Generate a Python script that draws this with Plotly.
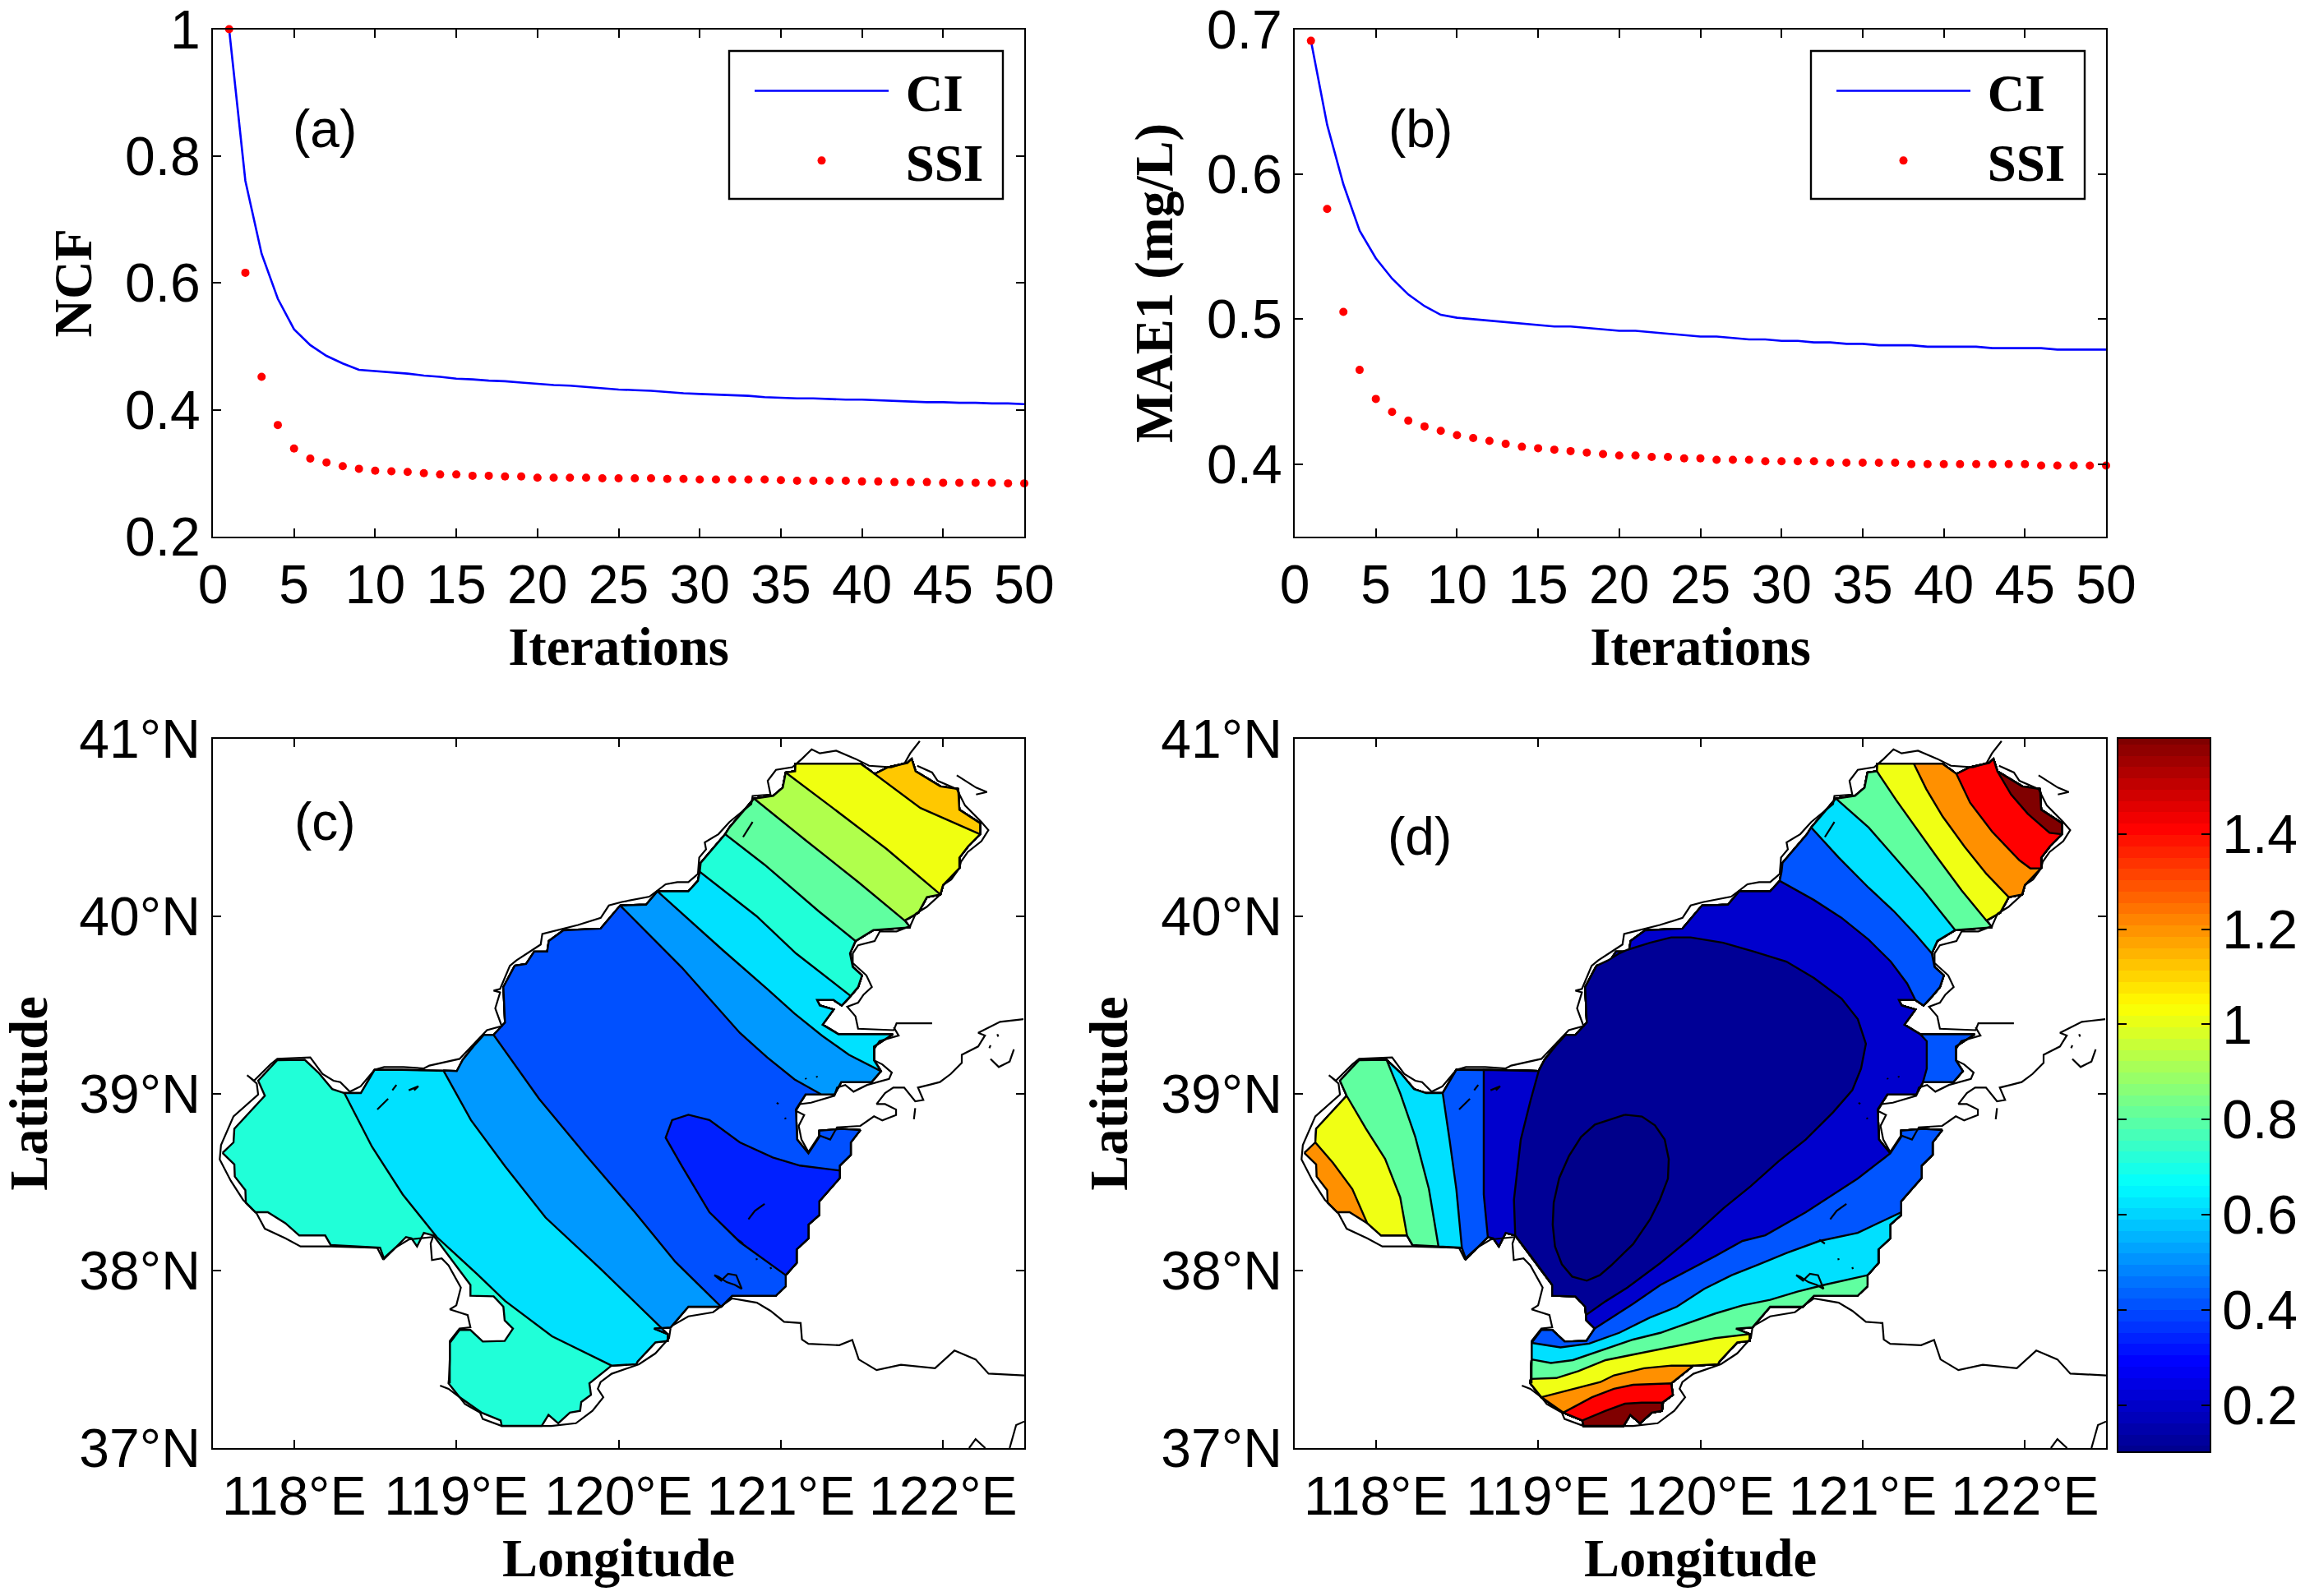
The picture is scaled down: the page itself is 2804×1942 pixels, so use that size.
import numpy as np
import plotly.graph_objects as go

W, H = 2804, 1942

# ---------- panels (a), (b) ----------
iterations = list(range(1, 51))
ci_ncf = [1.000,0.761,0.646,0.575,0.527,0.502,0.485,0.473,0.463,0.461,0.459,0.457,0.454,0.452,0.449,0.448,0.446,0.445,0.443,0.441,
          0.439,0.438,0.436,0.434,0.432,0.431,0.430,0.428,0.426,0.425,0.424,0.423,0.422,0.420,0.419,0.418,0.418,0.417,0.416,0.416,
          0.415,0.414,0.413,0.412,0.412,0.411,0.411,0.410,0.410,0.409]
ssi_ncf = [1.000,0.616,0.452,0.376,0.339,0.323,0.317,0.311,0.307,0.304,0.303,0.302,0.300,0.298,0.298,0.296,0.296,0.295,0.295,0.293,
           0.293,0.293,0.293,0.292,0.292,0.292,0.292,0.291,0.291,0.290,0.290,0.290,0.290,0.290,0.289,0.288,0.288,0.288,0.288,0.287,
           0.287,0.286,0.286,0.286,0.285,0.285,0.285,0.285,0.284,0.284]
ci_mae = [0.692,0.634,0.593,0.561,0.542,0.528,0.517,0.509,0.503,0.501,0.500,0.499,0.498,0.497,0.496,0.495,0.495,0.494,0.493,0.492,
          0.492,0.491,0.490,0.489,0.488,0.488,0.487,0.486,0.486,0.485,0.485,0.484,0.484,0.483,0.483,0.482,0.482,0.482,0.481,0.481,
          0.481,0.481,0.480,0.480,0.480,0.480,0.479,0.479,0.479,0.479]
ssi_mae = [0.692,0.576,0.505,0.465,0.445,0.436,0.430,0.426,0.423,0.420,0.418,0.416,0.414,0.412,0.411,0.410,0.409,0.408,0.407,0.406,
           0.406,0.405,0.405,0.404,0.404,0.403,0.403,0.403,0.402,0.402,0.402,0.402,0.401,0.401,0.401,0.401,0.401,0.400,0.400,0.400,
           0.400,0.400,0.400,0.400,0.400,0.399,0.399,0.399,0.399,0.399]

iter_ticks = list(range(0, 51, 5))
ncf_ticks = [0.2, 0.4, 0.6, 0.8, 1]
ncf_labels = ["0.2", "0.4", "0.6", "0.8", "1"]
mae_ticks = [0.4, 0.5, 0.6, 0.7]
mae_labels = ["0.4", "0.5", "0.6", "0.7"]
lon_ticks = [118, 119, 120, 121, 122]
lon_labels = ["118°E", "119°E", "120°E", "121°E", "122°E"]
lat_ticks = [37, 38, 39, 40, 41]
lat_labels = ["37°N", "38°N", "39°N", "40°N", "41°N"]
cbar_ticks = [0.2, 0.4, 0.6, 0.8, 1, 1.2, 1.4]
cbar_labels = ["0.2", "0.4", "0.6", "0.8", "1", "1.2", "1.4"]

# ---------- sea-area outline, clockwise from the western tip (lon, lat) ----------
outline = [
 (117.559,38.665),(117.627,38.724),(117.632,38.801),(117.82,38.987),(117.779,39.072),(117.897,39.188),(118.066,39.19),(118.15,39.118),(118.235,39.025),(118.31,39.002),
 (118.412,39.002),(118.496,39.133),(118.665,39.133),(118.92,39.13),(119.003,39.126),(119.04,39.19),(119.11,39.27),(119.17,39.33),(119.23,39.33),(119.30,39.40),
 (119.29,39.60),(119.36,39.72),(119.43,39.73),(119.48,39.80),(119.56,39.80),(119.57,39.86),(119.66,39.92),(119.89,39.93),(120.01,40.06),(120.17,40.065),
 (120.24,40.14),(120.43,40.14),(120.489,40.199),(120.50,40.25),(120.506,40.30),(120.657,40.462),(120.683,40.50),(120.835,40.663),(120.953,40.678),(121.012,40.725),
 (121.03,40.81),(121.088,40.817),(121.09,40.859),(121.316,40.859),(121.493,40.859),(121.578,40.802),(121.662,40.84),(121.78,40.864),(121.806,40.887),(121.83,40.817),
 (121.983,40.732),(122.093,40.717),(122.10,40.60),(122.228,40.524),(122.228,40.462),(122.152,40.392),(122.10,40.33),(122.10,40.27),(122.084,40.256),(122.0,40.176),
 (121.983,40.122),(121.90,40.107),(121.848,40.02),(121.763,39.975),(121.797,39.937),(121.57,39.921),(121.46,39.86),(121.426,39.79),(121.443,39.713),(121.50,39.666),
 (121.476,39.60),(121.43,39.55),(121.375,39.496),(121.325,39.527),(121.223,39.527),(121.24,39.496),(121.325,39.473),(121.257,39.388),(121.355,39.334),(121.69,39.334),
 (121.574,39.265),(121.574,39.187),(121.617,39.126),(121.558,39.064),(121.372,39.064),(121.33,38.994),(121.25,38.994),(121.152,38.994),(121.093,38.91),(121.10,38.74),
 (121.17,38.662),(121.237,38.755),(121.237,38.79),(121.372,38.80),(121.49,38.794),(121.431,38.724),(121.431,38.654),(121.363,38.593),(121.363,38.565),(121.363,38.523),
 (121.237,38.392),(121.237,38.33),(121.237,38.314),(121.17,38.26),(121.17,38.183),(121.097,38.12),(121.097,38.044),(121.03,37.975),(121.03,37.913),(120.97,37.859),
 (120.70,37.859),(120.632,37.797),(120.43,37.797),(120.32,37.68),(120.219,37.674),(120.303,37.643),(120.303,37.604),(120.227,37.596),(120.117,37.488),(120.109,37.473),
 (119.957,37.465),(119.82,37.365),(119.83,37.30),(119.77,37.26),(119.763,37.21),(119.70,37.20),(119.628,37.14),(119.568,37.187),(119.526,37.125),(119.28,37.125),
 (119.273,37.156),(119.155,37.20),(119.02,37.287),(118.952,37.365),(118.955,37.39),(118.96,37.50),(118.96,37.593),(119.02,37.666),(119.087,37.666),(119.163,37.601),
 (119.298,37.604),(119.349,37.674),(119.298,37.72),(119.295,37.75),(119.29,37.797),(119.23,37.856),(119.087,37.859),(119.087,37.92),(118.95,38.09),(118.859,38.199),
 (118.80,38.214),(118.758,38.137),(118.724,38.183),(118.69,38.19),(118.614,38.12),(118.555,38.067),(118.53,38.13),(118.386,38.137),(118.226,38.145),(118.192,38.199),
 (118.032,38.199),(117.947,38.268),(117.838,38.33),(117.762,38.33),(117.703,38.384),(117.70,38.454),(117.635,38.531),(117.632,38.60),
]

# ---------- panel (c) contour lines ----------
c1 = [(118.31,39.002),(118.48,38.70),(118.67,38.43),(118.88,38.19),(119.13,37.98),(119.30,37.83),(119.59,37.63),(119.957,37.465)]
c2 = [(118.92,39.13),(119.09,38.85),(119.30,38.59),(119.55,38.30),(119.89,38.01),(120.303,37.643)]
c3 = [(119.23,39.33),(119.51,38.97),(119.80,38.65),(120.10,38.33),(120.35,38.05),(120.632,37.797)]
c4 = [(120.01,40.06),(120.39,39.71),(120.747,39.342),(120.916,39.203),(121.085,39.079),(121.25,38.994)]
c5 = [(120.24,40.14),(120.64,39.81),(120.916,39.589),(121.085,39.45),(121.254,39.326),(121.42,39.218),(121.617,39.126)]
c6 = [(120.50,40.25),(120.85,40.00),(121.093,39.79),(121.43,39.55)]
c7 = [(120.657,40.462),(120.90,40.29),(121.23,40.03),(121.46,39.86)]
c8 = [(120.835,40.663),(121.15,40.43),(121.48,40.19),(121.763,39.975)]
c9 = [(121.03,40.81),(121.32,40.61),(121.65,40.38),(121.983,40.122)]
c10 = [(121.578,40.802),(121.86,40.61),(122.228,40.462)]
c11 = [(121.363,38.565),(121.118,38.593),(120.95,38.639),(120.747,38.724),(120.56,38.85),(120.43,38.88),(120.33,38.85),(120.29,38.75),(120.39,38.59),(120.56,38.33),(120.75,38.16),(121.03,37.975)]

colors_c_base = "#20FFD8"
colors_c = ["#00E1FF","#0099FF","#0050FF","#0099FF","#00E1FF","#20FFD8","#60FFA0","#B0FF4C","#F0FF10","#FFC800","#0020FF"]

# ---------- panel (d) contour lines ----------
d_w1 = [(117.627,38.724),(117.736,38.608),(117.855,38.461),(117.947,38.268)]
d_w2 = [(117.82,38.987),(117.939,38.801),(118.057,38.631),(118.15,38.415),(118.192,38.199)]
d_w3 = [(118.066,39.19),(118.15,39.002),(118.243,38.755),(118.327,38.461),(118.386,38.137)]
d_w4 = [(118.412,39.002),(118.454,38.74),(118.496,38.461),(118.53,38.13)]
d_w5 = [(118.665,39.133),(118.665,38.43),(118.69,38.19)]
d_n1a = [(120.489,40.199),(120.70,40.091),(120.869,39.991),(121.037,39.867),(121.173,39.744),(121.274,39.62),(121.325,39.527)]
d_n1b = [(121.355,39.334),(121.395,39.295),(121.395,39.14),(121.372,39.064)]
d_n2 = [(120.683,40.50),(120.852,40.331),(121.037,40.16),(121.19,40.03),(121.325,39.898),(121.426,39.79)]
d_n3 = [(120.835,40.663),(121.037,40.50),(121.206,40.323),(121.375,40.145),(121.57,39.921)]
d_n4 = [(121.088,40.817),(121.206,40.655),(121.325,40.50),(121.46,40.33),(121.61,40.145),(121.763,39.975)]
d_n5 = [(121.316,40.859),(121.392,40.717),(121.493,40.562),(121.628,40.392),(121.763,40.238),(121.90,40.107)]
d_n6 = [(121.578,40.802),(121.662,40.64),(121.797,40.477),(121.966,40.315),(122.034,40.269),(122.10,40.27)]
d_n7 = [(121.83,40.817),(121.915,40.686),(122.017,40.578),(122.152,40.47),(122.228,40.462)]
d_s1 = [(119.349,37.674),(119.585,37.813),(119.754,37.92),(119.923,38.0),(120.092,38.083),(120.26,38.168),(120.40,38.20),(120.65,38.33),(120.97,38.52),(121.17,38.662)]
d_s2 = [(118.96,37.593),(119.138,37.568),(119.315,37.589),(119.50,37.65),(119.687,37.735),(119.855,37.797),(120.024,37.898),(120.193,37.975),(120.362,38.037),(120.531,38.10),(120.734,38.168),(120.97,38.214),(121.237,38.33)]
d_s3 = [(118.96,37.50),(119.079,37.48),(119.214,37.496),(119.383,37.55),(119.585,37.612),(119.754,37.65),(119.923,37.704),(120.092,37.759),(120.26,37.805),(120.43,37.836),(120.598,37.882),(120.767,37.921),(121.03,37.975)]
d_s4 = [(118.955,37.39),(119.112,37.395),(119.248,37.434),(119.416,37.496),(119.585,37.527),(119.754,37.558),(119.923,37.589),(120.092,37.62),(120.303,37.643)]
d_s5 = [(119.02,37.287),(119.214,37.334),(119.383,37.372),(119.467,37.41),(119.653,37.45),(119.822,37.465),(119.957,37.465)]
d_s6 = [(119.155,37.20),(119.332,37.287),(119.467,37.334),(119.585,37.357),(119.82,37.365)]
d_s7 = [(119.273,37.156),(119.416,37.21),(119.535,37.25),(119.638,37.256),(119.763,37.256),(119.763,37.21)]
d_big_a = [(119.36,39.72),(119.43,39.75),(119.50,39.79),(119.55,39.81),(119.69,39.85),(119.82,39.88),(119.94,39.88),(120.14,39.85),(120.33,39.80),(120.53,39.744),(120.70,39.651),(120.87,39.535),
           (120.97,39.419),(121.02,39.28),(120.99,39.14),(120.936,39.018),(120.818,38.894),(120.649,38.74),(120.48,38.616),(120.31,38.477),(120.143,38.353),(119.94,38.184),(119.754,38.044),(119.55,37.905),(119.416,37.828),(119.295,37.75)]
d_big_b = [(118.859,38.199),(118.851,38.40),(118.893,38.74),(118.952,38.956),(119.003,39.126)]
d_ellipse = [(119.535,38.88),(119.64,38.87),(119.72,38.82),(119.78,38.74),(119.805,38.63),(119.80,38.52),(119.75,38.40),(119.69,38.29),(119.585,38.15),(119.45,38.03),(119.38,37.975),(119.30,37.944),
             (119.21,37.967),(119.146,38.037),(119.104,38.137),(119.09,38.26),(119.096,38.384),(119.13,38.523),(119.19,38.647),(119.265,38.755),(119.35,38.825),(119.535,38.88)]

colors_d = dict(orange="#FF9000", yellow="#F0FF14", green="#60FFA0", cyan="#00E0FF", blue="#0055FF",
                dark="#0000CD", navy="#000096", inner="#00008A", red="#FF0000", maroon="#800000")

# ---------- coastline ----------
coast_mainland = [(118.851,38.19),(118.707,38.176),(118.623,38.129),(118.547,38.067),(118.513,38.129),(118.226,38.137),(118.04,38.137),(117.947,38.183),(117.82,38.237),(117.77,38.322),
 (117.686,38.40),(117.61,38.508),(117.542,38.628),(117.55,38.709),(117.627,38.871),(117.779,38.994),(117.77,39.056),(117.711,39.103),(117.753,39.072),(117.855,39.164),
 (117.897,39.195),(118.10,39.203),(118.175,39.11),(118.243,39.072),(118.285,39.064),(118.344,39.01),(118.41,39.04),(118.496,39.133),(118.555,39.149),(118.674,39.149),
 (118.80,39.141),(118.834,39.157),(119.02,39.195),(119.189,39.357),(119.28,39.38),(119.24,39.48),(119.27,39.57),(119.23,39.58),(119.27,39.59),(119.33,39.72),
 (119.37,39.75),(119.47,39.81),(119.52,39.84),(119.53,39.90),(119.62,39.92),(119.75,39.95),(119.89,39.99),(119.94,40.06),(120.02,40.08),(120.19,40.11),
 (120.29,40.18),(120.362,40.192),(120.43,40.192),(120.489,40.238),(120.497,40.331),(120.539,40.377),(120.531,40.416),(120.615,40.462),(120.683,40.531),(120.818,40.632),
 (120.826,40.678),(120.936,40.686),(120.919,40.763),(120.97,40.825),(121.071,40.84),(121.13,40.887),(121.19,40.941),(121.24,40.918),(121.341,40.933),(121.46,40.887),
 (121.544,40.848),(121.68,40.84),(121.764,40.864),(121.797,40.918),(121.856,40.987)]
coast_northeast = [(121.84,40.848),(121.932,40.81),(121.966,40.763),(122.084,40.717),(122.135,40.624),(122.236,40.531),(122.279,40.485),(122.236,40.423),(122.152,40.362),(122.11,40.307),
 (122.10,40.27),(122.05,40.207),(122.0,40.176),(121.983,40.122),(121.899,40.052),(121.831,40.014),(121.797,39.944),(121.713,39.914),(121.61,39.914),(121.578,39.86),
 (121.476,39.836),(121.443,39.79),(121.443,39.736),(121.527,39.666),(121.561,39.60),(121.51,39.558),(121.476,39.512),(121.409,39.489),(121.46,39.435),(121.476,39.365),
 (121.696,39.357),(121.713,39.396),(121.932,39.396)]
coast_peninsula = [(121.696,39.373),(121.726,39.326),(121.608,39.296),(121.574,39.249),(121.574,39.187),(121.625,39.164),(121.684,39.118),(121.667,39.082),(121.532,39.048),(121.448,39.01),
 (121.397,39.048),(121.346,39.033),(121.33,38.987),(121.186,38.948),(121.118,38.94),(121.093,38.902),(121.144,38.878),(121.11,38.817),(121.127,38.74),(121.17,38.67),
 (121.237,38.763),(121.304,38.74),(121.346,38.809),(121.49,38.817),(121.574,38.871),(121.625,38.848),(121.71,38.878),(121.71,38.909),(121.642,38.94),(121.59,38.94),
 (121.642,39.002),(121.693,39.033),(121.76,39.033),(121.828,38.956),(121.878,38.963),(121.845,39.033),(121.912,39.048),(121.98,39.064),(122.047,39.11),(122.115,39.172),
 (122.115,39.218),(122.216,39.265),(122.258,39.327),(122.216,39.342),(122.351,39.404),(122.495,39.419)]
coast_shandong = [(120.328,37.689),(120.43,37.743),(120.582,37.766),(120.70,37.844),(120.852,37.82),(120.936,37.774),(121.02,37.712),(121.122,37.705),(121.13,37.612),(121.17,37.588),
 (121.36,37.58),(121.44,37.61),(121.48,37.50),(121.59,37.44),(121.74,37.47),(121.95,37.45),(122.07,37.55),(122.20,37.50),(122.28,37.42),(122.50,37.41)]
coast_south = [(120.32,37.674),(120.311,37.62),(120.227,37.534),(120.126,37.473),(119.957,37.419),(119.889,37.372),(119.872,37.334),(119.906,37.287),(119.839,37.21),(119.737,37.14),
 (119.585,37.125),(119.28,37.125),(119.163,37.164),(119.146,37.2),(119.053,37.249),(119.02,37.287),(118.952,37.334),(118.90,37.352)]
coast_bay = [(118.96,37.365),(118.96,37.604),(119.02,37.674),(119.087,37.681),(119.07,37.75),(118.96,37.782),(119.0,37.805),(119.028,37.905),(118.952,38.03),(118.91,38.07),
 (118.85,38.06),(118.842,38.153),(118.859,38.199)]
coast_corner_a = [(122.41,37.0),(122.45,37.13),(122.50,37.15)]
coast_corner_b = [(122.16,37.0),(122.20,37.05),(122.26,37.0)]
islands = [
 [(118.513,38.91),(118.58,38.97)], [(118.606,39.018),(118.631,39.048)], [(118.707,39.018),(118.766,39.041),(118.74,39.018)],
 [(120.80,38.29),(120.84,38.338),(120.90,38.377)], [(120.733,38.176),(120.767,38.153)],
 [(120.59,37.975),(120.632,37.944),(120.675,37.983),(120.725,37.975),(120.759,37.898),(120.717,37.92),(120.666,37.936),(120.615,37.967),(120.59,37.975)],
 [(120.85,38.07),(120.852,38.06)], [(120.936,38.02),(120.94,38.01)], [(120.75,38.168),(120.755,38.16)],
 [(121.152,39.087),(121.156,39.08)], [(121.22,39.098),(121.224,39.09)], [(120.975,38.948),(120.985,38.94)], [(121.026,38.863),(121.03,38.855)],
 [(120.767,40.446),(120.826,40.531)], [(122.084,40.794),(122.203,40.725),(122.27,40.70),(122.203,40.686)],
 [(122.292,39.195),(122.343,39.149),(122.41,39.18),(122.436,39.249)], [(122.334,39.334),(122.34,39.32)], [(122.292,39.272),(122.285,39.255)],
 [(121.828,38.917),(121.82,38.855)],
]
coast_all = [coast_mainland, coast_northeast, coast_peninsula, coast_shandong, coast_south, coast_bay,
             coast_corner_a, coast_corner_b] + islands

# ---------- colour bar ----------
cbar_min, cbar_max = 0.103, 1.6
cbar_steps = np.linspace(cbar_min, cbar_max, 64)
jet = [[0, "rgb(0,0,143)"], [0.125, "rgb(0,0,255)"], [0.375, "rgb(0,255,255)"],
       [0.625, "rgb(255,255,0)"], [0.875, "rgb(255,0,0)"], [1, "rgb(128,0,0)"]]


# ---------- helpers ----------
def nearest(p):
    return min(range(len(outline)), key=lambda i: (outline[i][0]-p[0])**2 + (outline[i][1]-p[1])**2)

def arc(p, q):
    i, j = nearest(p), nearest(q)
    out = [outline[i]]
    while i != j:
        i = (i + 1) % len(outline)
        out.append(outline[i])
    return out

def region(*lines):
    pts = []
    for k, ln in enumerate(lines):
        pts += list(ln)
        pts += arc(ln[-1], lines[(k + 1) % len(lines)][0])
    return pts

def side(ln):
    """Area on the clockwise side of a contour line."""
    return region(ln[::-1])


fig = go.Figure()
LW = 2.4

def band(pts, color, ax):
    fig.add_trace(go.Scatter(x=[p[0] for p in pts], y=[p[1] for p in pts], mode="lines", fill="toself",
                             fillcolor=color, line=dict(color="black", width=LW), showlegend=False,
                             hoverinfo="skip", xaxis=ax[0], yaxis=ax[1]))

def coast(ax):
    for seg in coast_all:
        fig.add_trace(go.Scatter(x=[p[0] for p in seg], y=[p[1] for p in seg], mode="lines",
                                 line=dict(color="black", width=2.2), showlegend=False,
                                 hoverinfo="skip", xaxis=ax[0], yaxis=ax[1]))

def curves(ci, ssi, ax, legend):
    fig.add_trace(go.Scatter(x=iterations, y=ci, mode="lines", name="\u00a0CI", line=dict(color="#0000FF", width=2.6),
                             xaxis=ax[0], yaxis=ax[1], legend=legend))
    fig.add_trace(go.Scatter(x=iterations, y=ssi, mode="markers", name="\u00a0SSI", marker=dict(color="#FF0000", size=10),
                             xaxis=ax[0], yaxis=ax[1], legend=legend, cliponaxis=False))

curves(ci_ncf, ssi_ncf, ("x", "y"), "legend")
curves(ci_mae, ssi_mae, ("x2", "y2"), "legend2")

# panel (c)
axc = ("x3", "y3")
band(outline + outline[:1], colors_c_base, axc)
for ln, col in zip([c1, c2, c3, c4, c5, c6, c7, c8, c9, c10, c11], colors_c):
    band(side(ln), col, axc)
coast(axc)

# panel (d)
axd = ("x4", "y4")
band(outline + outline[:1], colors_d["orange"], axd)
for ln, key in [(d_w1, "yellow"), (d_w2, "green"), (d_w3, "cyan"), (d_w4, "blue"), (d_w5, "dark"),
                (d_n1a, "blue"), (d_n1b, "blue"), (d_n2, "cyan"), (d_n3, "green"), (d_n4, "yellow"), (d_n5, "orange"),
                (d_n6, "red"), (d_n7, "maroon"),
                (d_s1[::-1], "blue"), (d_s2[::-1], "cyan"), (d_s3[::-1], "green"), (d_s4[::-1], "yellow"),
                (d_s5[::-1], "orange"), (d_s6[::-1], "red"), (d_s7[::-1], "maroon")]:
    band(side(ln), colors_d[key], axd)
band(region(d_big_a, d_big_b), colors_d["navy"], axd)
band(d_ellipse, colors_d["inner"], axd)
coast(axd)

# colour bar
fig.add_trace(go.Heatmap(z=[[v] for v in cbar_steps], y=cbar_steps, x=[0], colorscale=jet, showscale=False,
                         zmin=cbar_min, zmax=cbar_max, hoverinfo="skip", xaxis="x5", yaxis="y5"))

# ---------- layout ----------
def px_x(a, b): return [a / W, b / W]
def px_y(top, bottom): return [1 - bottom / H, 1 - top / H]

TICK = dict(family="Liberation Sans", size=66, color="black")
TITLE = dict(family="Liberation Serif", size=64.5, color="black")

def axis(domain, rng, tv, tt, title, standoff, anchor):
    return dict(domain=domain, range=rng, tickvals=tv, ticktext=tt, ticks="inside", ticklen=10, tickwidth=2,
                tickcolor="black", mirror="ticks", showline=True, linecolor="black", linewidth=2, showgrid=False,
                zeroline=False, tickfont=TICK, anchor=anchor, automargin=False, ticklabeloverflow="allow",
                title=dict(text=f"<b>{title}</b>", font=TITLE, standoff=standoff))

XA, XB = px_x(259, 1246), px_x(1575, 2562)
YT, YB = px_y(35.5, 653), px_y(899, 1762)

layout = dict(
    width=W, height=H, margin=dict(l=0, r=0, t=0, b=0), paper_bgcolor="white", plot_bgcolor="white",
    xaxis=axis(XA, [0, 50], iter_ticks, [str(v) for v in iter_ticks], "Iterations", 17, "y"),
    yaxis=axis(YT, [0.2, 1], ncf_ticks, ncf_labels, "NCF", 19, "x"),
    xaxis2=axis(XB, [0, 50], iter_ticks, [str(v) for v in iter_ticks], "Iterations", 17, "y2"),
    yaxis2=axis(YT, [0.35, 0.7], mae_ticks, mae_labels, "MAE1 (mg/L)", 20, "x2"),
    xaxis3=axis(XA, [117.5, 122.5], lon_ticks, lon_labels, "Longitude", 17, "y3"),
    yaxis3=axis(YB, [37, 41], lat_ticks, lat_labels, "Latitude", 26, "x3"),
    xaxis4=axis(XB, [117.5, 122.5], lon_ticks, lon_labels, "Longitude", 17, "y4"),
    yaxis4=axis(YB, [37, 41], lat_ticks, lat_labels, "Latitude", 20, "x4"),
    xaxis5=dict(domain=px_x(2577, 2688), range=[-0.5, 0.5], showticklabels=False, ticks="", showline=True, mirror=True,
                linecolor="black", linewidth=2, showgrid=False, zeroline=False, anchor="y5"),
    yaxis5=dict(domain=px_y(899, 1766), range=[cbar_min, cbar_max], tickvals=cbar_ticks, ticktext=cbar_labels, side="right",
                ticks="inside", ticklen=10, tickwidth=2, tickcolor="black", mirror="ticks", showline=True, linecolor="black",
                linewidth=2, showgrid=False, zeroline=False, tickfont=TICK, anchor="x5", automargin=False),
    showlegend=True,
)
fig.update_layout(**layout)

legend_style = dict(bgcolor="rgba(0,0,0,0)", borderwidth=0, itemwidth=163, xanchor="left", yanchor="top",
                    font=dict(family="Liberation Serif", size=63, color="black", weight="bold"),
                    traceorder="normal", itemclick=False, itemdoubleclick=False)
fig.update_layout(legend=dict(x=913 / W, y=1 - 63 / H, **legend_style),
                  legend2=dict(x=2229 / W, y=1 - 63 / H, **legend_style))
for left, right in [(887, 1220), (2203, 2536)]:
    fig.add_shape(type="rect", xref="paper", yref="paper", x0=left / W, x1=right / W, y0=1 - 242 / H, y1=1 - 62 / H,
                  line=dict(color="black", width=2.4), fillcolor="rgba(0,0,0,0)")

for xr, yr, label, ax in [(6.9, 0.843, "(a)", ("x", "y")), (7.75, 0.631, "(b)", ("x2", "y2")),
                          (118.19, 40.53, "(c)", ("x3", "y3")), (118.27, 40.45, "(d)", ("x4", "y4"))]:
    fig.add_annotation(x=xr, y=yr, xref=ax[0], yref=ax[1], text=label, showarrow=False,
                       font=dict(family="Liberation Sans", size=64, color="black"))

fig.write_html("out.html", config={"displayModeBar": False}, post_script="document.body.style.margin='0';")
